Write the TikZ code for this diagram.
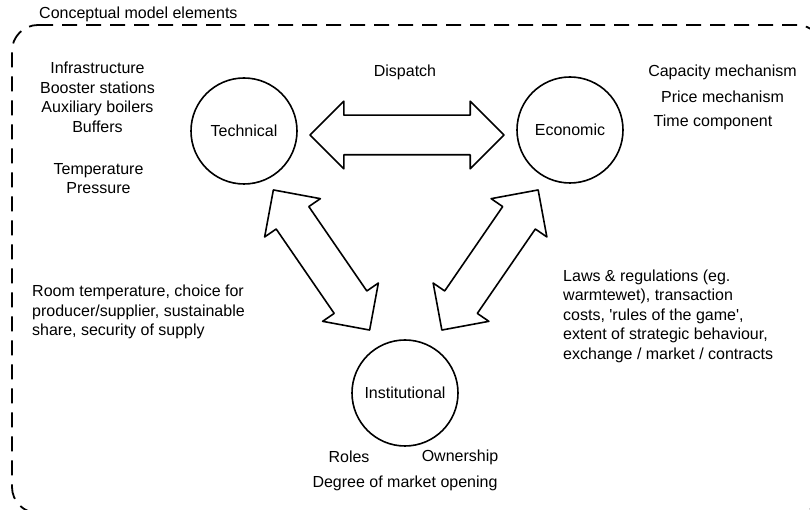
\documentclass[tikz,border=0pt]{standalone}
\usepackage{fontspec}
\newfontfamily\labelfont{Liberation Sans}
\usetikzlibrary{shapes.arrows}
\begin{document}
\begin{tikzpicture}[x=1pt,y=1pt,
  every node/.style={inner sep=0pt, font=\labelfont\fontsize{16}{19.5}\selectfont},
  txt/.style={align=center},
  para/.style={align=left},
  dimension/.style={circle, draw, line width=1.6pt, minimum size=106pt},
  link/.style={double arrow, draw, line width=1.6pt, line join=round,
    inner xsep=0pt, inner ysep=19pt, double arrow head extend=14pt,
    double arrow tip angle=90},
  frame/.style={line width=1.8pt, dash pattern=on 15pt off 9pt, rounded corners=26pt}
]
\useasboundingbox (0,0) rectangle (810,510);
\begin{scope}
  \clip (0,0) rectangle (810,510);
  \draw[frame] (12,485) -- (823,485) -- (823,-3) -- (12,-3) -- cycle;
\end{scope}
\node[anchor=west] (title) at (39,496) {Conceptual model elements};

% the three dimensions
\node[dimension] (tech) at (244,379) {Technical};
\node[dimension] (econ) at (570,380) {Economic};
\node[dimension] (inst) at (405,117) {Institutional};

% block arrows between the dimensions
\node[link, minimum height=194pt] (a1) at (407,375) {};
\node[link, minimum height=170pt, rotate=-55.5] (a2) at (321.5,250) {};
\node[link, minimum height=170pt, rotate=55.5] (a3) at (490,250) {};

% labels
\node[txt] (disp) at (405,438) {Dispatch};
\node[txt] (techitems) at (97.5,412.5) {Infrastructure\\Booster stations\\Auxiliary boilers\\Buffers};
\node[txt] (techprops) at (98.5,331.5) {Temperature\\Pressure};
\node[txt] (cap) at (722.5,438) {Capacity mechanism};
\node[txt] (price) at (722.5,413) {Price mechanism};
\node[txt] (time) at (713,388) {Time component};
\node[para, anchor=west] (leftpara) at (32,198) {Room temperature, choice for\\producer/supplier, sustainable\\share, security of supply};
\node[para, anchor=west] (rightpara) at (563,194) {Laws \& regulations (eg.\\warmtewet), transaction\\costs, 'rules of the game',\\extent of strategic behaviour,\\exchange / market / contracts};
\node[txt] (roles) at (349,53) {Roles};
\node[txt] (own) at (460,53) {Ownership};
\node[txt] (degree) at (405,27) {Degree of market opening};
\end{tikzpicture}
\end{document}
